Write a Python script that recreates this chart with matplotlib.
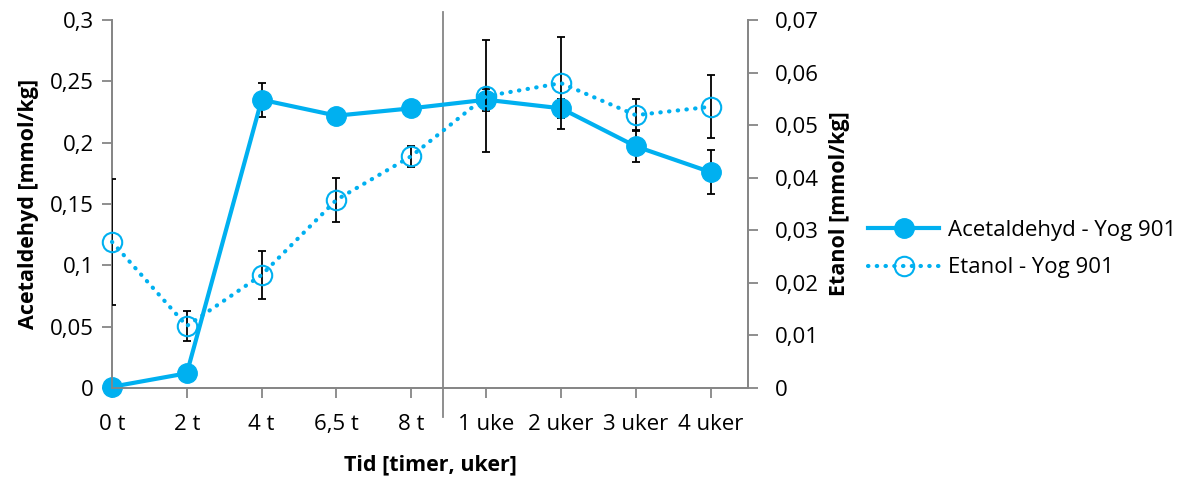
import numpy as np
import matplotlib.pyplot as plt
from matplotlib.ticker import FuncFormatter, MultipleLocator
import matplotlib.transforms as mtransforms

plt.rcParams['font.family'] = ['Open Sans', 'DejaVu Sans']

categories = ['0 t', '2 t', '4 t', '6,5 t', '8 t', '1 uke', '2 uker', '3 uker', '4 uker']
acetaldehyd = [0.001, 0.012, 0.235, 0.222, 0.228, 0.235, 0.228, 0.197, 0.176]
acetaldehyd_err = [0.0, 0.0, 0.014, 0.003, 0.002, 0.009, 0.008, 0.013, 0.018]
etanol = [0.0278, 0.0118, 0.0215, 0.0358, 0.0441, 0.0555, 0.0580, 0.0519, 0.0535]
etanol_err = [0.012, 0.0028, 0.0045, 0.0042, 0.002, 0.0107, 0.0087, 0.003, 0.006]

blue = '#00B0F0'
grey = '#868686'
x = np.arange(len(categories))

fig = plt.figure(figsize=(11.92, 4.78), dpi=100)
ax = fig.add_axes([112/1192, 1 - 388/478, (748 - 112)/1192, (388 - 20)/478])
ax2 = ax.twinx()

ax.errorbar(x, acetaldehyd, yerr=acetaldehyd_err, fmt='none', ecolor='black',
            elinewidth=1.3, capsize=2.7, capthick=1.3, zorder=3)
ax.plot(x, acetaldehyd, color=blue, lw=3, marker='o', ms=14, mfc=blue, mec=blue,
        clip_on=False, zorder=4, label='Acetaldehyd - Yog 901')

ax2.errorbar(x, etanol, yerr=etanol_err, fmt='none', ecolor='black',
             elinewidth=1.3, capsize=2.7, capthick=1.3, zorder=3)
ax2.plot(x, etanol, color=blue, lw=3, linestyle=(0, (0.1, 2)), dash_capstyle='round',
         marker='o', ms=14, mfc='none', mec=blue, mew=1.5,
         clip_on=False, zorder=4, label='Etanol - Yog 901')

ax.set_xlim(0, 8.5)
ax.set_ylim(0, 0.3)
ax2.set_ylim(0, 0.07)
ax.yaxis.set_major_locator(MultipleLocator(0.05))
ax2.yaxis.set_major_locator(MultipleLocator(0.01))
fmt = FuncFormatter(lambda v, p: ('%g' % round(v, 4)).replace('.', ','))
ax.yaxis.set_major_formatter(fmt)
ax2.yaxis.set_major_formatter(fmt)
ax.set_xticks(x)
ax.set_xticklabels(categories)

for a in (ax, ax2):
    a.spines['top'].set_visible(False)
    for s in a.spines.values():
        s.set_color(grey)
        s.set_linewidth(1.3)
    a.tick_params(axis='both', colors=grey, labelcolor='black', labelsize=16,
                  length=7, width=1.3, direction='out')
ax.tick_params(axis='y', pad=6)
ax2.tick_params(axis='y', pad=12)
ax.tick_params(axis='x', pad=12)

# separator between hours and weeks
trans = mtransforms.blended_transform_factory(ax.transData, ax.transAxes)
ax.plot([4.43, 4.43], [-0.079, 1.022], color=grey, lw=1.3, transform=trans,
        clip_on=False, zorder=2)

ax.set_ylabel('Acetaldehyd [mmol/kg]', fontsize=15.5, fontweight='bold', labelpad=8)
ax2.set_ylabel('Etanol [mmol/kg]', fontsize=15.5, fontweight='bold', labelpad=8)
ax.set_xlabel('Tid [timer, uker]', fontsize=15.5, fontweight='bold', labelpad=14)

h1, l1 = ax.get_legend_handles_labels()
h2, l2 = ax2.get_legend_handles_labels()
fig.legend(h1 + h2, l1 + l2, loc='center left', bbox_to_anchor=(848/1192, 1 - 249/478),
           frameon=False, fontsize=16, handlelength=3.2, labelspacing=0.75,
           handletextpad=0.4)

fig.savefig('out.png', dpi=100)
